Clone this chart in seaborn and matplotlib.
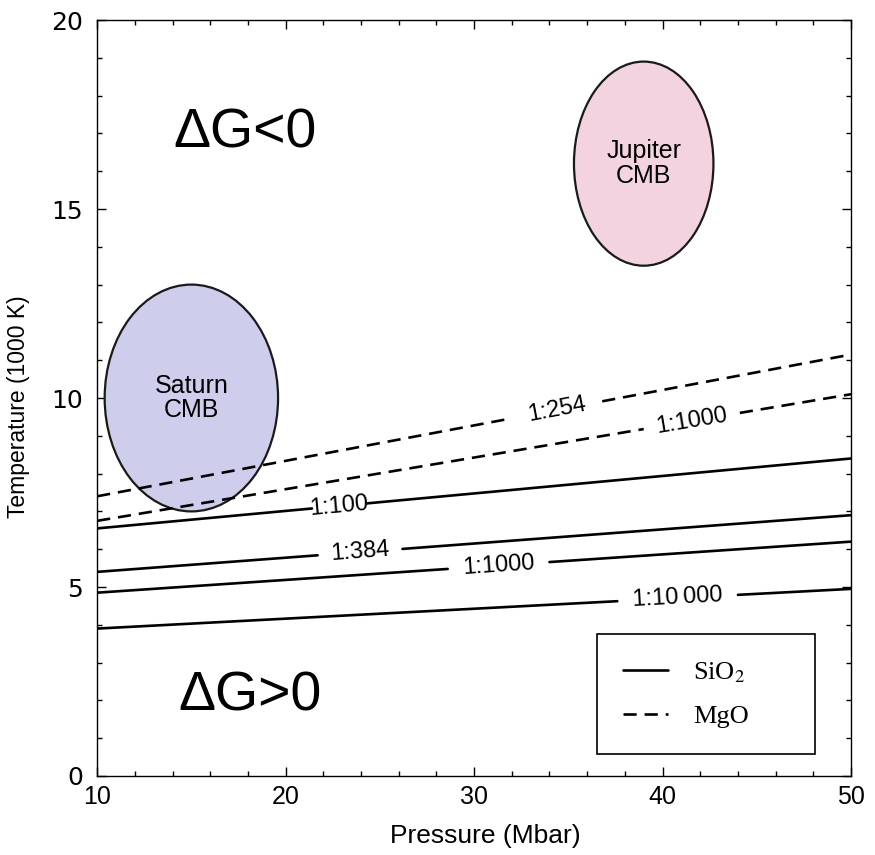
import numpy as np
import pandas as pd
import matplotlib
matplotlib.use("Agg")
import matplotlib.pyplot as plt
from matplotlib.patches import Ellipse
from matplotlib.lines import Line2D
from matplotlib.ticker import MultipleLocator
import seaborn as sns

# ---------------- data ----------------
pressure_range = [10, 50]
sio2_labels = ["1:100", "1:384", "1:1000", "1:10\u2009000"]
sio2_T_start = [6.55, 5.4, 4.85, 3.9]
sio2_T_end = [8.4, 6.9, 6.2, 4.95]
mgo_labels = ["1:254", "1:1000"]
mgo_T_start = [7.4, 6.75]
mgo_T_end = [11.15, 10.1]

planet_names = ["Saturn\nCMB", "Jupiter\nCMB"]
planet_P = [15.0, 39.0]
planet_T = [10.0, 16.2]
planet_dP = [9.2, 7.4]
planet_dT = [6.0, 5.4]

# gaps left in each line for its inline label (layout)
sio2_gaps = [(21.4, 24.3), (21.7, 26.2), (28.6, 34.0), (37.6, 44.0)]
mgo_gaps = [(32.0, 36.8), (39.0, 44.1)]

# ---------------- style ----------------
sns.set_style("ticks")
plt.rcParams["font.family"] = ["Liberation Sans", "DejaVu Sans"]
plt.rcParams["mathtext.fontset"] = "stix"
plt.rcParams["text.color"] = "black"
plt.rcParams["axes.labelcolor"] = "black"
plt.rcParams["xtick.color"] = "black"
plt.rcParams["ytick.color"] = "black"

fig = plt.figure(figsize=(8.75, 8.55), dpi=100)
ax = fig.add_axes([0.111, 0.0924, 0.8616, 0.8842])
ax.set_xlim(*pressure_range)
ax.set_ylim(0, 20)

# build segments table
rows = []
lines_info = []
def add_lines(material, labels, t0s, t1s, gaps):
    for lab, t0, t1, (g0, g1) in zip(labels, t0s, t1s, gaps):
        P0, P1 = pressure_range
        f = lambda p: t0 + (t1 - t0) * (p - P0) / (P1 - P0)
        uid = material + lab
        for seg, (a, b) in enumerate([(P0, g0), (g1, P1)]):
            rows.append(dict(P=a, T=f(a), material=material, unit=f"{uid}_{seg}"))
            rows.append(dict(P=b, T=f(b), material=material, unit=f"{uid}_{seg}"))
        lines_info.append((lab, t0, t1, (g0 + g1) / 2, f((g0 + g1) / 2)))

add_lines("SiO2", sio2_labels, sio2_T_start, sio2_T_end, sio2_gaps)
add_lines("MgO", mgo_labels, mgo_T_start, mgo_T_end, mgo_gaps)
df = pd.DataFrame(rows)

# ellipses
face_cols = ["#cfcdec", "#f2d3df"]
for name, p, t, dp, dt, fc in zip(planet_names, planet_P, planet_T, planet_dP, planet_dT, face_cols):
    ax.add_patch(Ellipse((p, t), dp, dt, facecolor=fc, edgecolor="#1a1a1a", lw=1.6, zorder=1))
    ax.text(p, t, name, ha="center", va="center", fontsize=18, linespacing=1.05, zorder=2)

sns.lineplot(data=df, x="P", y="T", units="unit", style="material",
             dashes={"SiO2": "", "MgO": (5, 3)}, color="black", lw=1.9,
             estimator=None, sort=False, legend=False, ax=ax, zorder=3)

# inline labels
for lab, t0, t1, xm, ym in lines_info:
    p0 = ax.transData.transform((pressure_range[0], t0))
    p1 = ax.transData.transform((pressure_range[1], t1))
    ang = np.degrees(np.arctan2(p1[1] - p0[1], p1[0] - p0[0]))
    ax.text(xm, ym, lab, ha="center", va="center", rotation=ang,
            rotation_mode="anchor", fontsize=17, zorder=4)

ax.text(17.85, 17.0, "\u0394G<0", ha="center", va="center", fontsize=40)
ax.text(18.1, 2.1, "\u0394G>0", ha="center", va="center", fontsize=40)

# legend
handles = [Line2D([], [], color="black", lw=1.9),
           Line2D([], [], color="black", lw=1.9, dashes=(5, 3))]
leg = ax.legend(handles, ["SiO$_2$", "MgO"], loc="center",
                bbox_to_anchor=(0.6625, 0.027, 0.29, 0.163), mode="expand",
                borderaxespad=0, fancybox=False, edgecolor="black", framealpha=1,
                handlelength=1.7, handletextpad=0.95, labelspacing=0.75,
                borderpad=1.0, prop={"family": "Liberation Serif", "size": 19})
leg.get_frame().set_linewidth(1.2)

# axes
ax.xaxis.set_major_locator(MultipleLocator(10))
ax.xaxis.set_minor_locator(MultipleLocator(2))
ax.yaxis.set_major_locator(MultipleLocator(5))
ax.yaxis.set_minor_locator(MultipleLocator(1))
ax.tick_params(which="both", direction="in", top=True, right=True, colors="black", width=1.0)
ax.tick_params(which="major", length=6.5)
ax.tick_params(which="minor", length=3.6)
ax.tick_params(axis="x", pad=6.5, labelsize=18)
ax.tick_params(axis="y", pad=10, labelsize=18, labelfontfamily="DejaVu Sans")
for s in ax.spines.values():
    s.set_color("black")
    s.set_linewidth(1.0)

ax.set_xlabel("Pressure (Mbar)", fontsize=19)
ax.set_ylabel("Temperature (1000 K)", fontsize=16.5)
ax.xaxis.set_label_coords(0.515, -0.064)
ax.yaxis.set_label_coords(-0.089, 0.488)

fig.savefig("out.png", dpi=100)
